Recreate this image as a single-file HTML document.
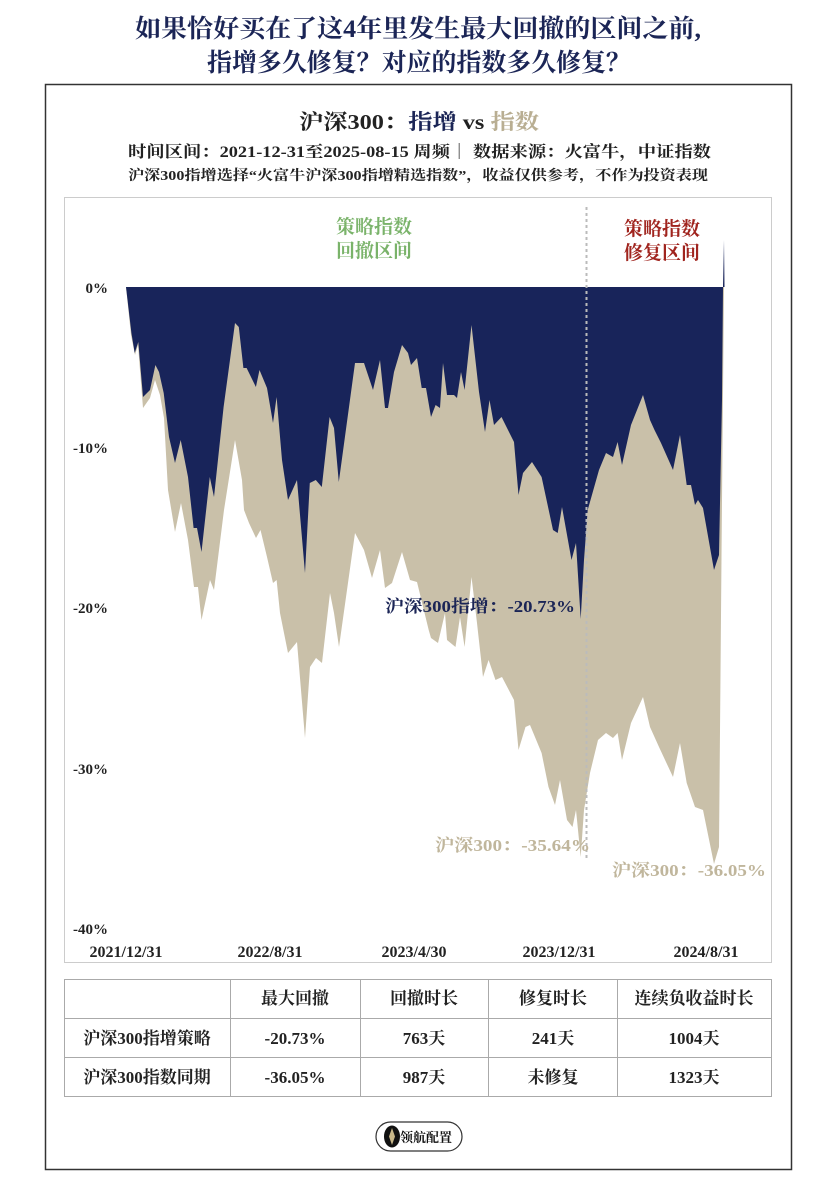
<!DOCTYPE html>
<html><head><meta charset="utf-8"><style>
html,body{margin:0;padding:0;background:#fff;}
svg{display:block;}
text{font-family:"Liberation Serif","Noto Serif CJK SC",serif;font-weight:bold;}
</style></head><body>
<svg width="837" height="1185" viewBox="0 0 837 1185" xmlns="http://www.w3.org/2000/svg">
<rect width="837" height="1185" fill="#fff"/>
<text x="135" y="37" font-size="25" fill="#1b2556" textLength="566" lengthAdjust="spacingAndGlyphs">如果恰好买在了这4年里发生最大回撤的区间之前,</text>
<text x="207" y="71" font-size="25" fill="#1b2556" textLength="424" lengthAdjust="spacingAndGlyphs">指增多久修复？对应的指数多久修复？</text>
<rect x="45.5" y="84.5" width="746" height="1085" fill="none" stroke="#333" stroke-width="1.5"/>
<text x="299" y="129" font-size="21" fill="#222" textLength="240" lengthAdjust="spacingAndGlyphs">沪深300：<tspan fill="#1b2556">指增</tspan> vs <tspan fill="#b9ae92">指数</tspan></text>
<text x="128" y="157" font-size="16" fill="#222" textLength="583" lengthAdjust="spacingAndGlyphs">时间区间：2021-12-31至2025-08-15 周频｜ 数据来源：火富牛，中证指数</text>
<text x="128" y="180" font-size="14" fill="#222" textLength="580" lengthAdjust="spacingAndGlyphs">沪深300指增选择“火富牛沪深300指增精选指数”，收益仅供参考，不作为投资表现</text>
<rect x="64.5" y="197.5" width="707" height="765" fill="none" stroke="#ccc" stroke-width="1"/>
<polygon fill="#c9c0a9" points="126,287 131,335 135,355 138,345 143,408 150,398 155,380 160,395 164,418 168,490 175,532 181,503 188,540 194,587 198,587 201.5,620 210,580 214,590 224,510 235,440 242,480 244,510 249,523 256,538 260.5,530 267,557 273,583 276.6,580 280,613 288,653 297,642 305,738 310,667 316,658 322,663 330,593 334,613 339,647 355,533 364,550 372,578 380,550 385,588 392,583 402,552 410,580 417,582 428.7,630 431,638 438,643 445,613 447,640 455.5,647 460,617 464.6,647 471.5,577 477,623 483,677 488.6,660 495.5,680 502,677 514,700 518.5,750 525.5,727 530,725 541.6,753 548.5,787 555,805 560,780 567,820 572.5,827 576,810 580.7,857 584,810 590,773 598,740 606,733 613,738 617.6,733 622,760 631,723 643,697 650,727 659,747 673,777 680,743 686.7,783 695,807 703,810 714,864 719,847 722,500 724,287"/>
<polygon fill="#18245a" points="126,287 131.4,333 134.7,353 138.3,342 143,397 150,390 155.4,365 159,372 163.7,393 169,437 175,463 180.7,440 188,477 193.6,528 197,528 201.5,552 209.8,477 214,497 223.6,407 235,323 238.8,327 243.4,368 246.6,368 255.9,387 259.5,370 267,388 273,423 276.6,397 282,460 288,500 297,480 305,573 309.8,483 315.8,480 321.8,487 329.6,417 334,428 338.8,482 355,363 364,363 373,390 380,360 385,408 388,408 394,372 402,345 408,353 411,365 417,358 421.7,388 426,388 431,417 435.6,405 440,408 443,363 447,395 454,395 457,398 461,372 464.6,390 471.5,325 479,392 485,432 489.5,400 494,425 501.5,417 514,442 518.5,495 523,473 532,462 541.6,477 553,530 557.7,533 562,507 571.5,560 576,543 580.7,619 584,560 587.7,510 599,470 606,453 613,457 617.6,442 622,465 631,425 643,395 650,420 654.5,430 661,443 673,470 680,435 686.7,485 691,485 695,505 698,500 703,508 714,570 719,555 722,400 723,287 724,240 724.5,287"/>
<line x1="586.5" y1="207" x2="586.5" y2="860" stroke="#bbb" stroke-width="2" stroke-dasharray="3,3"/>
<g font-size="19" text-anchor="middle">
<text x="374" y="233" fill="#7ab36a">策略指数</text>
<text x="374" y="257" fill="#7ab36a">回撤区间</text>
<text x="662" y="235" fill="#a0241e">策略指数</text>
<text x="662" y="259" fill="#a0241e">修复区间</text>
</g>
<g font-size="15" fill="#222" text-anchor="end">
<text x="108" y="293" font-weight="normal">0%</text>
<text x="108" y="453" font-weight="normal">-10%</text>
<text x="108" y="613" font-weight="normal">-20%</text>
<text x="108" y="774" font-weight="normal">-30%</text>
<text x="108" y="934" font-weight="normal">-40%</text>
</g>
<text x="385" y="612" font-size="17" fill="#1b2556" textLength="190" lengthAdjust="spacingAndGlyphs">沪深300指增：-20.73%</text>
<text x="435" y="851" font-size="17" fill="#c0b69c" textLength="155" lengthAdjust="spacingAndGlyphs">沪深300：-35.64%</text>
<text x="612" y="876" font-size="17" fill="#c0b69c" textLength="154" lengthAdjust="spacingAndGlyphs">沪深300：-36.05%</text>
<g font-size="16" fill="#222" text-anchor="middle">
<text x="126" y="957">2021/12/31</text>
<text x="270" y="957">2022/8/31</text>
<text x="414" y="957">2023/4/30</text>
<text x="559" y="957">2023/12/31</text>
<text x="706" y="957">2024/8/31</text>
</g>
<g stroke="#aaa" stroke-width="1" fill="none">
<rect x="64.5" y="979.5" width="707" height="117"/>
<line x1="64" y1="1018.5" x2="772" y2="1018.5"/>
<line x1="64" y1="1057.5" x2="772" y2="1057.5"/>
<line x1="230.5" y1="979" x2="230.5" y2="1097"/>
<line x1="360.5" y1="979" x2="360.5" y2="1097"/>
<line x1="488.5" y1="979" x2="488.5" y2="1097"/>
<line x1="617.5" y1="979" x2="617.5" y2="1097"/>
</g>
<g font-size="17" fill="#222" text-anchor="middle">
<text x="295" y="1004">最大回撤</text>
<text x="424" y="1004">回撤时长</text>
<text x="553" y="1004">修复时长</text>
<text x="694" y="1004">连续负收益时长</text>
<text x="147" y="1044">沪深300指增策略</text>
<text x="295" y="1044">-20.73%</text>
<text x="424" y="1044">763天</text>
<text x="553" y="1044">241天</text>
<text x="694" y="1044">1004天</text>
<text x="147" y="1083">沪深300指数同期</text>
<text x="295" y="1083">-36.05%</text>
<text x="424" y="1083">987天</text>
<text x="553" y="1083">未修复</text>
<text x="694" y="1083">1323天</text>
</g>
<rect x="376" y="1122" width="86" height="29" rx="14.5" fill="#fff" stroke="#333" stroke-width="1.2"/>
<ellipse cx="392" cy="1136.5" rx="8" ry="11" fill="#111"/>
<polygon points="392,1128 395,1136.5 392,1145 389,1136.5" fill="#c9b88a"/>
<text x="426" y="1142" font-size="13" fill="#111" text-anchor="middle">领航配置</text>
</svg>
</body></html>
